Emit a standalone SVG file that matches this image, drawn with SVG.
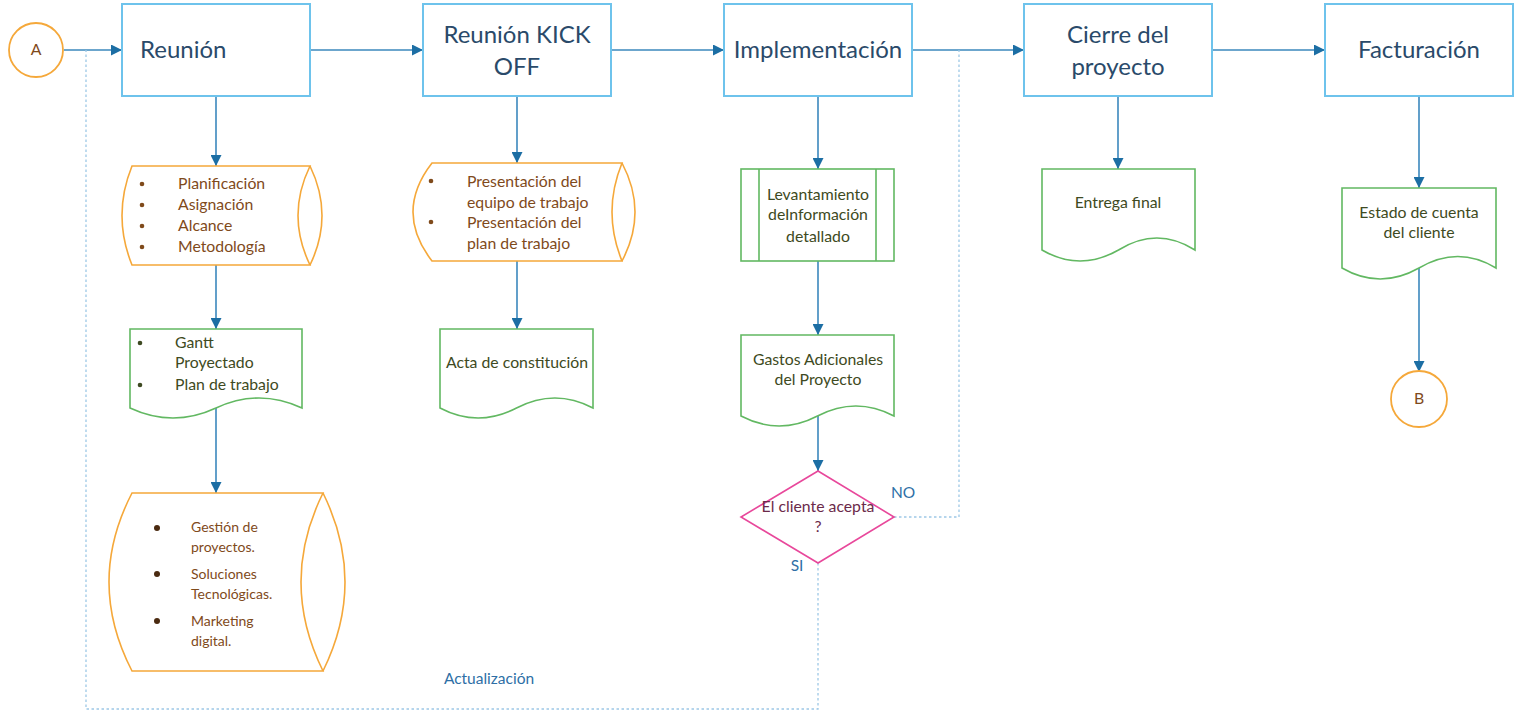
<svg xmlns="http://www.w3.org/2000/svg" width="1515" height="712" viewBox="0 0 1515 712">
<defs>
<style>
.box{fill:#fff;stroke:#6ec3ec;stroke-width:2}
.title{font-family:Lato,"Liberation Sans",sans-serif;font-size:24px;fill:#2a4a6a}
.org{fill:#fff;stroke:#f5a83a;stroke-width:1.6}
.orgline{fill:none;stroke:#f5a83a;stroke-width:1.6}
.grn{fill:#fff;stroke:#62b862;stroke-width:1.6}
.grnline{fill:none;stroke:#62b862;stroke-width:1.6}
.dia{fill:#fff;stroke:#e8489b;stroke-width:1.6}
.circ{fill:#fff;stroke:#f5a83a;stroke-width:1.8}
.t{font-family:Lato,"Liberation Sans",sans-serif;font-size:15.8px}
.ts{font-size:14px}
.tb{fill:#7f4a1b}
.tg{fill:#3e4a22}
.tp{fill:#6b2a4a}
.lbl{font-family:Lato,"Liberation Sans",sans-serif;font-size:15.5px;fill:#2e6fa6}
.m{text-anchor:middle}
.conn{fill:none;stroke:#3b88bd;stroke-width:1.6}
.dash{fill:none;stroke:#9dc8e6;stroke-width:1.3;stroke-dasharray:2.5 2.5}
</style>
<marker id="ah" viewBox="0 0 10 10" refX="10" refY="5" markerWidth="11" markerHeight="11" markerUnits="userSpaceOnUse" orient="auto">
<path d="M0,0 L10,5 L0,10 Z" fill="#1c6ea4"/>
</marker>
</defs>

<g id="connectors">
<path class="conn" d="M64,50 H122" marker-end="url(#ah)"/>
<path class="conn" d="M310,50 H423" marker-end="url(#ah)"/>
<path class="conn" d="M611,50 H724" marker-end="url(#ah)"/>
<path class="conn" d="M912,50 H1024" marker-end="url(#ah)"/>
<path class="conn" d="M1212,50 H1325" marker-end="url(#ah)"/>
<path class="conn" d="M216,96 V166" marker-end="url(#ah)"/>
<path class="conn" d="M216,265 V329" marker-end="url(#ah)"/>
<path class="conn" d="M216,404 V493" marker-end="url(#ah)"/>
<path class="conn" d="M517,96 V163" marker-end="url(#ah)"/>
<path class="conn" d="M517,261 V329" marker-end="url(#ah)"/>
<path class="conn" d="M818,96 V169" marker-end="url(#ah)"/>
<path class="conn" d="M818,261 V335" marker-end="url(#ah)"/>
<path class="conn" d="M818,416 V471" marker-end="url(#ah)"/>
<path class="conn" d="M1118,96 V169" marker-end="url(#ah)"/>
<path class="conn" d="M1419,96 V188" marker-end="url(#ah)"/>
<path class="conn" d="M1419,268 V372" marker-end="url(#ah)"/>
<path class="dash" d="M894,517 H959 V50"/>
<path class="dash" d="M818,563 V709 H86 V50"/>
<text class="lbl m" x="903" y="498">NO</text>
<text class="lbl m" x="797" y="571">SI</text>
<text class="lbl m" x="489" y="684">Actualización</text>
</g>

<g id="nodeA">
<circle class="circ" cx="36" cy="50" r="27"/>
<text class="t tb m" x="36" y="55">A</text>
</g>

<g id="reunion">
<rect class="box" x="122" y="4" width="188" height="92"/>
<text class="title" x="140" y="58">Reunión</text>
</g>

<g id="kickoff">
<rect class="box" x="423" y="4" width="188" height="92"/>
<text class="title m" x="517" y="43">Reunión KICK</text>
<text class="title m" x="517" y="75">OFF</text>
</g>

<g id="implementacion">
<rect class="box" x="724" y="4" width="188" height="92"/>
<text class="title m" x="818" y="58">Implementación</text>
</g>

<g id="cierre">
<rect class="box" x="1024" y="4" width="188" height="92"/>
<text class="title m" x="1118" y="43">Cierre del</text>
<text class="title m" x="1118" y="75">proyecto</text>
</g>

<g id="facturacion">
<rect class="box" x="1325" y="4" width="188" height="92"/>
<text class="title m" x="1419" y="58">Facturación</text>
</g>

<g id="planificacion">
<path class="org" d="M132,166 H310 Q286,215.5 310,265 H132 Q112,215.5 132,166 Z"/>
<path class="orgline" d="M310,166 Q334,215.5 310,265"/>
<g class="tb">
<circle cx="142" cy="184" r="2.3"/><circle cx="142" cy="205" r="2.3"/><circle cx="142" cy="226" r="2.3"/><circle cx="142" cy="247" r="2.3"/>
</g>
<text class="t tb" x="178" y="189">Planificación</text>
<text class="t tb" x="178" y="210">Asignación</text>
<text class="t tb" x="178" y="231">Alcance</text>
<text class="t tb" x="178" y="252">Metodología</text>
</g>

<g id="gantt">
<path class="grn" d="M130,329 H302 V408 Q259,388 216,408 Q173,428 130,408 Z"/>
<g class="tg"><circle cx="140" cy="343" r="2.3"/><circle cx="140" cy="385" r="2.3"/></g>
<text class="t tg" x="175" y="348">Gantt</text>
<text class="t tg" x="175" y="368">Proyectado</text>
<text class="t tg" x="175" y="390">Plan de trabajo</text>
</g>

<g id="servicios">
<path class="org" d="M132,493 H323 Q279,582 323,671 H132 Q86,582 132,493 Z"/>
<path class="orgline" d="M323,493 Q367,582 323,671"/>
<g fill="#4a2a10"><circle cx="157" cy="528" r="3"/><circle cx="157" cy="574" r="3"/><circle cx="157" cy="621" r="3"/></g>
<text class="t ts tb" x="191" y="532">Gestión de</text>
<text class="t ts tb" x="191" y="552">proyectos.</text>
<text class="t ts tb" x="191" y="579">Soluciones</text>
<text class="t ts tb" x="191" y="599">Tecnológicas.</text>
<text class="t ts tb" x="191" y="626">Marketing</text>
<text class="t ts tb" x="191" y="646">digital.</text>
</g>

<g id="presentacion">
<path class="org" d="M432,163 H622 Q602,212 622,261 H432 Q394,212 432,163 Z"/>
<path class="orgline" d="M622,163 Q648,212 622,261"/>
<g class="tb"><circle cx="431" cy="181" r="2.3"/><circle cx="431" cy="222" r="2.3"/></g>
<text class="t tb" x="467" y="187">Presentación del</text>
<text class="t tb" x="467" y="208">equipo de trabajo</text>
<text class="t tb" x="467" y="228">Presentación del</text>
<text class="t tb" x="467" y="249">plan de trabajo</text>
</g>

<g id="acta">
<path class="grn" d="M440,329 H593 V408 Q555,388 516.5,408 Q478,428 440,408 Z"/>
<text class="t tg m" x="517" y="368">Acta de constitución</text>
</g>

<g id="levantamiento">
<rect class="grn" x="741" y="169" width="153" height="92"/>
<path class="grnline" d="M759,169 V261 M876,169 V261"/>
<text class="t tg m" x="818" y="200">Levantamiento</text>
<text class="t tg m" x="818" y="220">deInformación</text>
<text class="t tg m" x="818" y="242">detallado</text>
</g>

<g id="gastos">
<path class="grn" d="M741,335 H894 V416 Q856,396 817.5,416 Q779,436 741,416 Z"/>
<text class="t tg m" x="818" y="365">Gastos Adicionales</text>
<text class="t tg m" x="818" y="385">del Proyecto</text>
</g>

<g id="decision">
<path class="dia" d="M818,471 L894,517 L818,563 L741,517 Z"/>
<text class="t tp m" x="818" y="512">El cliente acepta</text>
<text class="t tp m" x="818" y="532">?</text>
</g>

<g id="entrega">
<path class="grn" d="M1042,169 H1195 V250 Q1157,226 1118.5,250 Q1080,272 1042,250 Z"/>
<text class="t tg m" x="1118" y="208">Entrega final</text>
</g>

<g id="estado">
<path class="grn" d="M1342,188 H1496 V268 Q1458,245 1419,268 Q1380,290 1342,268 Z"/>
<text class="t tg m" x="1419" y="218">Estado de cuenta</text>
<text class="t tg m" x="1419" y="238">del cliente</text>
</g>

<g id="nodeB">
<circle class="circ" cx="1419" cy="399" r="28"/>
<text class="t tb m" x="1419" y="404">B</text>
</g>
</svg>
